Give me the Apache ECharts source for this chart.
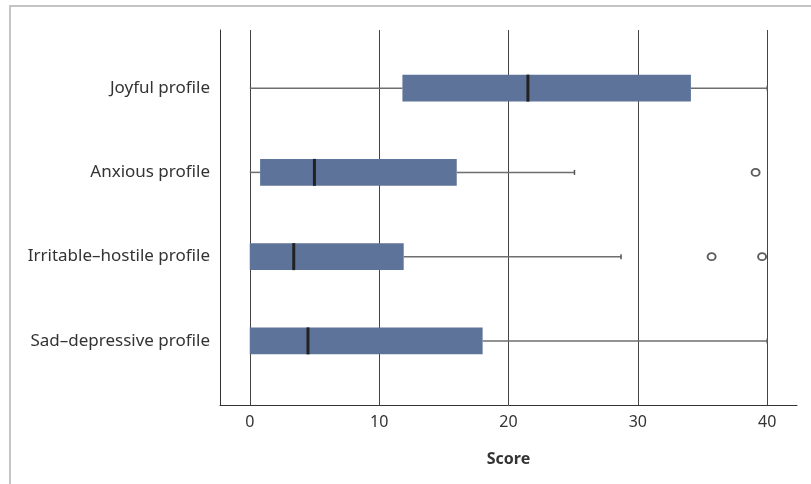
<!DOCTYPE html>
<html>
<head>
<meta charset="utf-8">
<script src="https://cdn.jsdelivr.net/npm/echarts@6/dist/echarts.min.js"></script>
<style>
  html, body { margin: 0; padding: 0; background: #fff; }
  #chart { width: 811px; height: 484px; }
</style>
</head>
<body>
<div id="chart"></div>
<script>
// profiles, top to bottom
var profiles = ["Joyful profile", "Anxious profile", "Irritable\u2013hostile profile", "Sad\u2013depressive profile"];
// [min, q1, median, q3, max] per profile
var boxStats = [
  [0, 11.8, 21.5, 34.1, 40],
  [0, 0.8, 5.0, 16.0, 25.1],
  [0, 0, 3.4, 11.9, 28.7],
  [0, 0, 4.5, 18.0, 40]
];
// outliers: [score, profile]
var outliers = [
  [39.1, "Anxious profile"],
  [35.7, "Irritable\u2013hostile profile"],
  [39.6, "Irritable\u2013hostile profile"]
];
var scoreTicks = [0, 10, 20, 30, 40];

var boxData = boxStats.map(function (s, i) {
  return [i].concat(s);
});

var myChart = echarts.init(document.getElementById("chart"));
var font = "'Noto Sans', 'Open Sans', sans-serif";

var option = {
  animation: false,
  graphic: [
    {
      type: "rect",
      shape: { x: 10, y: 6, width: 900, height: 600 },
      style: { fill: "none", stroke: "#c4c4c4", lineWidth: 2 },
      silent: true
    }
  ],
  grid: [
    { left: 220, right: 14, top: 30, bottom: 79 },
    { left: 220, right: 14, top: 46, bottom: 101 }
  ],
  xAxis: [
    {
      gridIndex: 0,
      type: "value",
      min: -2.3,
      max: 42.3,
      name: "Score",
      nameLocation: "middle",
      nameGap: 46,
      nameTextStyle: { fontFamily: font, fontSize: 16, fontWeight: "bold", color: "#333" },
      axisLine: { show: true, onZero: false, lineStyle: { color: "#333", width: 1 } },
      axisTick: { show: false },
      axisLabel: {
        fontFamily: font,
        fontSize: 16,
        color: "#333",
        margin: 9,
        customValues: scoreTicks
      },
      splitLine: {
        show: true,
        showMinLine: false,
        showMaxLine: false,
        lineStyle: { color: "#444", width: 1 }
      }
    },
    {
      gridIndex: 1,
      type: "value",
      min: -2.3,
      max: 42.3,
      show: false
    }
  ],
  yAxis: [
    {
      gridIndex: 0,
      type: "value",
      min: 0,
      max: 1,
      axisLine: { show: true, onZero: false, lineStyle: { color: "#333", width: 1 } },
      axisTick: { show: false },
      axisLabel: { show: false },
      splitLine: { show: false }
    },
    {
      gridIndex: 1,
      type: "category",
      inverse: true,
      data: profiles,
      axisLine: { show: false, onZero: false },
      axisTick: { show: false },
      axisLabel: { fontFamily: font, fontSize: 17, color: "#333", margin: 10 },
      splitLine: { show: false }
    }
  ],
  series: [
    {
      type: "custom",
      xAxisIndex: 1,
      yAxisIndex: 1,
      data: boxData,
      encode: { x: [1, 2, 3, 4, 5], y: 0 },
      renderItem: function (params, api) {
        var cat = api.value(0);
        var pMin = api.coord([api.value(1), cat]);
        var pQ1 = api.coord([api.value(2), cat]);
        var pMed = api.coord([api.value(3), cat]);
        var pQ3 = api.coord([api.value(4), cat]);
        var pMax = api.coord([api.value(5), cat]);
        var h = api.size([0, 1])[1] * 0.32;
        var y = pMin[1];
        var whisker = { stroke: "#6e6e6e", lineWidth: 1.5 };
        return {
          type: "group",
          children: [
            { type: "line", shape: { x1: pMin[0], y1: y, x2: pQ1[0], y2: y }, style: whisker },
            { type: "line", shape: { x1: pQ3[0], y1: y, x2: pMax[0], y2: y }, style: whisker },
            { type: "line", shape: { x1: pMax[0], y1: y - 2.5, x2: pMax[0], y2: y + 2.5 }, style: { stroke: "#555", lineWidth: 1.5 } },
            { type: "rect", shape: { x: pQ1[0], y: y - h / 2, width: pQ3[0] - pQ1[0], height: h }, style: { fill: "#5e7399" } },
            { type: "line", shape: { x1: pMed[0], y1: y - h / 2, x2: pMed[0], y2: y + h / 2 }, style: { stroke: "#222", lineWidth: 3 } }
          ]
        };
      }
    },
    {
      type: "scatter",
      xAxisIndex: 1,
      yAxisIndex: 1,
      data: outliers,
      symbol: "circle",
      symbolSize: [8, 7],
      itemStyle: { color: "#fff", borderColor: "#333", borderWidth: 1.8 }
    }
  ]
};

myChart.setOption(option);
window.addEventListener("resize", function () {
  myChart.resize();
});
</script>
</body>
</html>
